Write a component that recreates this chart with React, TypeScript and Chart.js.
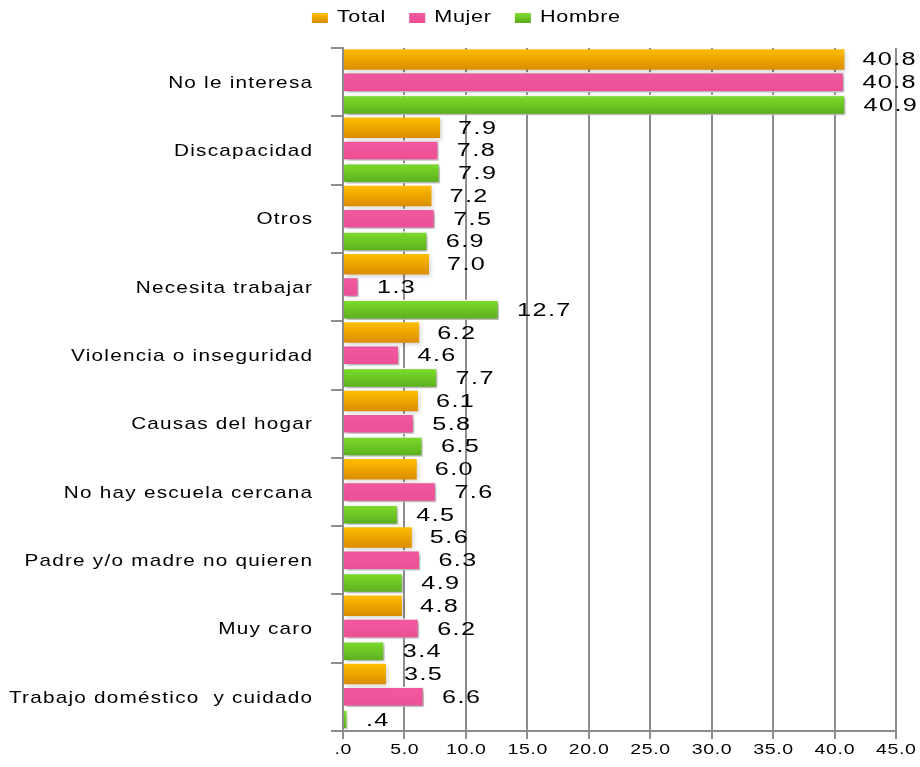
import React, { useEffect, useRef } from 'react';
import { Chart, registerables } from 'chart.js';

Chart.register(...registerables);

const categories = [
  'No le interesa',
  'Discapacidad',
  'Otros',
  'Necesita trabajar',
  'Violencia o inseguridad',
  'Causas del hogar',
  'No hay escuela cercana',
  'Padre y/o madre no quieren',
  'Muy caro',
  'Trabajo doméstico  y cuidado',
];
const seriesNames = ['Total', 'Mujer', 'Hombre'];
const totalValues = [40.8, 7.9, 7.2, 7.0, 6.2, 6.1, 6.0, 5.6, 4.8, 3.5];
const mujerValues = [40.8, 7.8, 7.5, 1.3, 4.6, 5.8, 7.6, 6.3, 6.2, 6.6];
const hombreValues = [40.9, 7.9, 6.9, 12.7, 7.7, 6.5, 4.5, 4.9, 3.4, 0.4];
const axisMin = 0;
const axisMax = 45;
const axisStep = 5;

const FONT = '"Liberation Sans", Arial, sans-serif';
const seriesTop = ['#FFC000', '#F15A9F', '#80E02C'];
const seriesBottom = ['#D98A00', '#EC4E95', '#58AA1C'];

function fmt(v: number): string {
  const s = Number(v).toFixed(1);
  return s.startsWith('0') ? s.slice(1) : s;
}

// draws horizontally stretched text (the reference's glyphs are wide)
function stretchedText(
  c: CanvasRenderingContext2D,
  text: string,
  x: number,
  y: number,
  size: number,
  sx: number,
  ls: number,
  align: 'left' | 'right' | 'center'
) {
  c.save();
  c.font = `${size}px ${FONT}`;
  (c as any).letterSpacing = `${ls}px`;
  c.fillStyle = '#000';
  c.textBaseline = 'middle';
  c.textAlign = 'left';
  const w = c.measureText(text).width - ls;
  let left = x;
  if (align === 'right') left = x - w * sx;
  else if (align === 'center') left = x - (w * sx) / 2;
  c.translate(left, y);
  c.scale(sx, 1);
  c.fillText(text, 0, 0);
  c.restore();
  return w * sx;
}

function barGradient(di: number) {
  return (ctx: any) => {
    const chart = ctx.chart;
    const area = chart.chartArea;
    if (ctx.type !== 'data' || !area || !chart.scales.y) return seriesBottom[di];
    const ys = chart.scales.y;
    const center = ys.getPixelForValue(ctx.dataIndex);
    const band = ys.height / categories.length;
    const slot = band / 3;
    const y0 = center - band / 2 + di * slot;
    const g = chart.ctx.createLinearGradient(0, y0, 0, y0 + slot);
    g.addColorStop(0, seriesTop[di]);
    g.addColorStop(1, seriesBottom[di]);
    return g;
  };
}

const shadowPlugin = {
  id: 'barShadow',
  beforeDatasetDraw(chart: any, args: any) {
    const c = chart.ctx;
    c.save();
    c.shadowColor = args.index === 0 ? 'rgba(0,0,0,0.15)' : 'rgba(0,0,0,0.35)';
    c.shadowBlur = 4;
    c.shadowOffsetX = 2;
    c.shadowOffsetY = 2;
  },
  afterDatasetDraw(chart: any) {
    chart.ctx.restore();
  },
};

const textPlugin = {
  id: 'texts',
  afterDatasetsDraw(chart: any) {
    const c = chart.ctx;
    // value labels
    chart.data.datasets.forEach((ds: any, di: number) => {
      const meta = chart.getDatasetMeta(di);
      meta.data.forEach((el: any, i: number) => {
        stretchedText(c, fmt(ds.data[i]), el.x + 18, el.y + 1, 18, 1.4, 1, 'left');
      });
    });
  },
  afterDraw(chart: any) {
    const c = chart.ctx;
    const xs = chart.scales.x;
    const ys = chart.scales.y;
    // category labels
    categories.forEach((lab, i) => {
      stretchedText(c, lab, ys.right - 31, ys.getPixelForValue(i) + 1, 17, 1.22, 1, 'right');
    });
    // x tick labels
    for (let v = axisMin; v <= axisMax; v += axisStep) {
      stretchedText(c, fmt(v), xs.getPixelForValue(v), xs.top + 19, 15, 1.3, 0.5, 'center');
    }
    // legend
    const boxW = 16;
    const boxH = 10;
    const gapBoxText = 9;
    const gapItems = 24;
    const legSize = 16;
    const legSx = 1.35;
    const legLs = 0.5;
    c.save();
    c.font = `${legSize}px ${FONT}`;
    (c as any).letterSpacing = `${legLs}px`;
    const widths = seriesNames.map((n) => (c.measureText(n).width - legLs) * legSx);
    c.restore();
    const total =
      widths.reduce((a, b) => a + b, 0) + seriesNames.length * (boxW + gapBoxText) + (seriesNames.length - 1) * gapItems;
    let x = 466 - total / 2;
    const cy = 18;
    seriesNames.forEach((n, i) => {
      const g = c.createLinearGradient(0, cy - boxH / 2, 0, cy + boxH / 2);
      g.addColorStop(0, seriesTop[i]);
      g.addColorStop(1, seriesBottom[i]);
      c.save();
      c.fillStyle = g;
      c.fillRect(x, cy - boxH / 2, boxW, boxH);
      c.restore();
      x += boxW + gapBoxText;
      stretchedText(c, n, x, cy, legSize, legSx, legLs, 'left');
      x += widths[i] + gapItems;
    });
  },
};

export default function App() {
  const ref = useRef<HTMLCanvasElement | null>(null);

  useEffect(() => {
    document.body.style.margin = '0';
    const canvas = ref.current;
    if (!canvas) return;
    const chart = new Chart(canvas, {
      type: 'bar',
      data: {
        labels: categories,
        datasets: [
          {
            label: seriesNames[0],
            data: totalValues,
            backgroundColor: barGradient(0),
            borderWidth: 0,
          },
          {
            label: seriesNames[1],
            data: mujerValues,
            backgroundColor: barGradient(1),
            borderColor: '#ffffff',
            borderWidth: 1.5,
          },
          {
            label: seriesNames[2],
            data: hombreValues,
            backgroundColor: barGradient(2),
            borderColor: '#ffffff',
            borderWidth: 1.5,
          },
        ],
      },
      options: {
        indexAxis: 'y',
        responsive: true,
        maintainAspectRatio: false,
        animation: false,
        layout: { padding: { top: 48, right: 24, left: 0, bottom: 0 } },
        datasets: {
          bar: { categoryPercentage: 1, barPercentage: 0.9 },
        },
        plugins: {
          tooltip: { enabled: false },
          legend: { display: false },
        },
        scales: {
          x: {
            min: axisMin,
            max: axisMax,
            ticks: { stepSize: axisStep, display: false },
            grid: { color: '#8c8c8c', lineWidth: 2, tickLength: 8 },
            border: { color: '#8c8c8c', width: 2 },
            afterFit(s: any) {
              s.height = 36;
            },
          },
          y: {
            ticks: { display: false, autoSkip: false },
            grid: {
              offset: true,
              drawOnChartArea: false,
              tickLength: 12,
              color: '#8c8c8c',
              lineWidth: 2,
            },
            border: { color: '#8c8c8c', width: 2 },
            afterFit(s: any) {
              s.width = 343;
            },
          },
        },
      },
      plugins: [shadowPlugin, textPlugin],
    } as any);
    return () => chart.destroy();
  }, []);

  return (
    <div style={{ width: 920, height: 767, position: 'relative' }}>
      <canvas ref={ref} />
    </div>
  );
}
